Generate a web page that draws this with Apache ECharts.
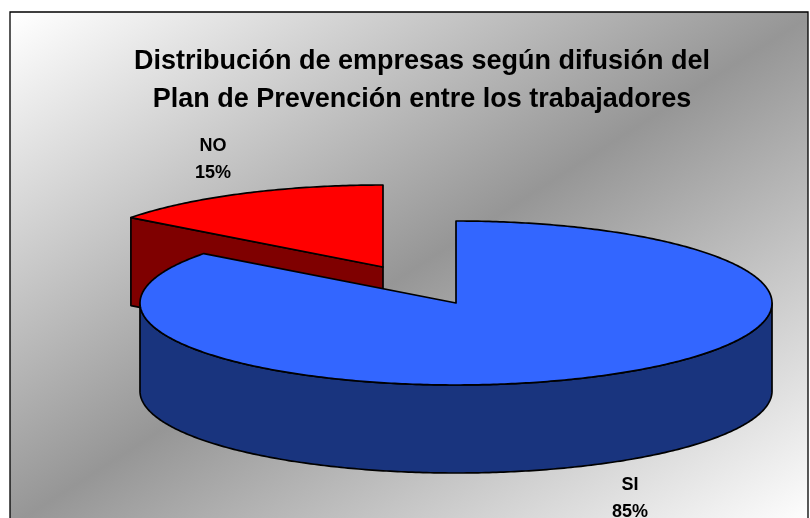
<!DOCTYPE html>
<html><head><meta charset="utf-8">
<style>html,body{margin:0;padding:0;background:#fff}#c{width:810px;height:518px}</style>
<script src="https://cdn.jsdelivr.net/npm/echarts@6/dist/echarts.min.js"></script>
</head><body><div id="c"></div>
<script>
const categories = ['SI', 'NO'];
const values = [85.3, 14.7];
const titleLines = ['Distribución de empresas según difusión del', 'Plan de Prevención entre los trabajadores'];

const topColors = ['#3366ff', '#ff0000'];
const sideColors = ['#19347e', '#7f0000'];
const cx = 456, cy = 303, rx = 316, ry = 82, depth = 88;
const offsets = [[0, 0], [-73, -36]];
const labelPos = [[630, 498.5], [213, 159.5]];
const total = values.reduce((a, b) => a + b, 0);

function pt(ox, oy, deg) {
  const r = deg * Math.PI / 180;
  return [ox + rx * Math.sin(r), oy - ry * Math.cos(r)];
}
function arc(ox, oy, from, to) {
  const out = [];
  const n = Math.max(2, Math.round(Math.abs(to - from) * 1.5));
  for (let i = 0; i <= n; i++) out.push(pt(ox, oy, from + (to - from) * i / n));
  return out;
}
const line = { stroke: '#000', lineWidth: 1.7, lineJoin: 'round' };

function renderItem(params, api) {
  const i = params.dataIndex;
  let start = 0;
  for (let k = 0; k < i; k++) start += values[k] / total * 360;
  const end = start + api.value(1) / total * 360;
  const ox = cx + offsets[i][0], oy = cy + offsets[i][1];
  const z = i === 0 ? 10 : 1;
  const children = [];
  if (i === 1) {
    const a = pt(ox, oy, start);
    children.push({ type: 'polygon', z2: z, shape: { points: [a, [ox, oy], [ox, oy + depth], [a[0], a[1] + depth]] },
      style: Object.assign({ fill: sideColors[i] }, line) });
  }
  const wFrom = Math.max(start, 90), wTo = Math.min(end, 270);
  if (wTo > wFrom) {
    const rim = arc(ox, oy, wFrom, wTo);
    const low = rim.map(p => [p[0], p[1] + depth]).reverse();
    children.push({ type: 'polygon', z2: z + 1, shape: { points: rim.concat(low) },
      style: Object.assign({ fill: sideColors[i] }, line) });
  }
  children.push({ type: 'polygon', z2: z + 2, shape: { points: [[ox, oy]].concat(arc(ox, oy, start, end)) },
    style: Object.assign({ fill: topColors[i] }, line) });
  children.push({ type: 'text', z2: 30, style: {
    x: labelPos[i][0], y: labelPos[i][1], text: api.value(0) + '\n' + Math.round(api.value(1) / total * 100) + '%',
    fill: '#000', font: 'bold 18px "Liberation Sans", Arial, sans-serif', align: 'center', verticalAlign: 'middle', lineHeight: 27 } });
  return { type: 'group', children };
}

const chart = echarts.init(document.getElementById('c'), null, { renderer: 'canvas' });
chart.setOption({
  animation: false,
  backgroundColor: '#fff',
  graphic: [{ type: 'rect', z: -1, silent: true, shape: { x: 10, y: 12, width: 798, height: 520 },
    style: { stroke: '#000', lineWidth: 1.3,
      fill: new echarts.graphic.LinearGradient(178, -90, 640, 634, [
        { offset: 0, color: '#ffffff' }, { offset: 0.5, color: '#969696' }, { offset: 1, color: '#ffffff' }], true) } }],
  title: { text: titleLines.join('\n'), left: 417, top: 38, textAlign: 'center',
    textStyle: { color: '#000', fontFamily: '"Liberation Sans", Arial, sans-serif', fontWeight: 'bold', fontSize: 27, lineHeight: 38 } },
  series: [{ type: 'custom', coordinateSystem: 'none', renderItem,
    data: categories.map((c, i) => [c, values[i]]) }]
});
</script></body></html>
